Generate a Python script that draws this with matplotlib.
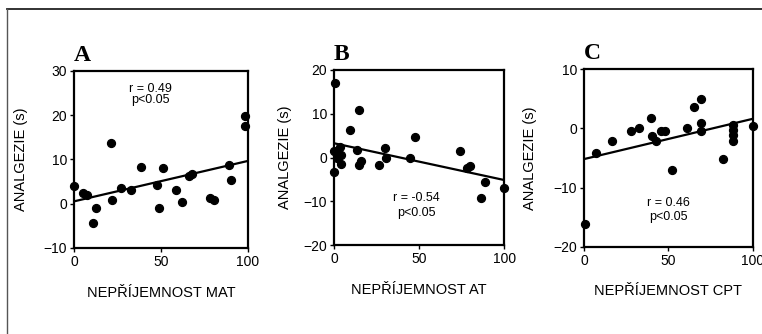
import numpy as np
import matplotlib.pyplot as plt
from matplotlib.lines import Line2D

plt.rcParams['font.family'] = ['Liberation Sans', 'DejaVu Sans']

# ---- data ----
# panel A : MAT
a_x = [0, 5.4, 7.6, 12.4, 11.1, 21.2, 21.6, 27.2, 32.5, 38.8, 47.8, 48.9, 50.9,
       58.9, 62.1, 66.0, 68.1, 78.0, 80.3, 89.1, 90.4, 98.5, 98.5]
a_y = [4.0, 2.5, 1.9, -0.9, -4.3, 13.7, 0.8, 3.6, 3.1, 8.3, 4.3, -0.9, 8.1,
       3.1, 0.3, 6.3, 6.8, 1.3, 0.8, 8.7, 5.3, 19.9, 17.6]

# panel B : AT
b_x = [0.6, 0, 0, 1.6, 3.5, 3.9, 2.0, 3.9, 14.7, 9.4, 13.3, 15.7, 14.9, 26.6,
       29.9, 30.3, 44.6, 47.6, 74.0, 77.9, 79.8, 88.6, 86.3, 100]
b_y = [17.1, -3.2, 1.5, 0.6, 2.5, 0.6, -0.2, -1.5, 10.9, 6.3, 1.7, -0.8, -1.7, -1.7,
       2.1, -0.2, 0.0, 4.6, 1.5, -2.3, -1.9, -5.5, -9.3, -7.0]

# panel C : CPT
c_x = [0.6, 7.1, 16.4, 27.9, 32.6, 39.7, 40.1, 42.7, 45.5, 48.0, 51.9, 60.9,
       65.4, 69.2, 69.2, 69.4, 82.2, 88.5, 88.5, 88.5, 88.5, 100]
c_y = [-16.2, -4.1, -2.1, -0.5, 0.0, 1.8, -1.3, -2.1, -0.4, -0.4, -7.1, 0.0,
       3.6, 5.0, 1.0, -0.4, -5.1, 0.6, -0.3, -1.1, -2.1, 0.5]

letters = ['A', 'B', 'C']
xlabels = ['NEPŘÍJEMNOST MAT', 'NEPŘÍJEMNOST AT', 'NEPŘÍJEMNOST CPT']
r_texts = ['r = 0.49', 'r = -0.54', 'r = 0.46']
ylims = [(-10, 30), (-20, 20), (-20, 10)]
yticks = [[-10, 0, 10, 20, 30], [-20, -10, 0, 10, 20], [-20, -10, 0, 10]]

# layout (figure fractions) and text spots (data coords)
boxes = [[0.0971, 0.2575, 0.2283, 0.530],
         [0.4383, 0.2656, 0.2235, 0.525],
         [0.7664, 0.2614, 0.2214, 0.531]]
txt_pos = [(44, 25.9, 23.4), (48.5, -9.1, -12.6), (50, -12.6, -15.0)]
ylabpad = [11, 8, 12]

fig = plt.figure(figsize=(7.62, 3.34), dpi=100)

data = [(a_x, a_y), (b_x, b_y), (c_x, c_y)]
for i, (xs, ys) in enumerate(data):
    ax = fig.add_axes(boxes[i])
    xs = np.array(xs)
    ys = np.array(ys)
    ax.scatter(xs, ys, s=32, color='black', zorder=3, clip_on=False)

    # regression line
    k, q = np.polyfit(xs, ys, 1)
    xx = np.array([0, 100])
    ax.plot(xx, k * xx + q, color='black', lw=1.6)

    ax.set_xlim(0, 100)
    ax.set_ylim(*ylims[i])
    ax.set_xticks([0, 50, 100])
    ax.set_yticks(yticks[i])
    ax.tick_params(direction='out', length=3, width=1, labelsize=10, pad=2)
    for sp in ax.spines.values():
        sp.set_linewidth(1.6)

    ax.set_xlabel(xlabels[i], fontsize=10.5, labelpad=12)
    ax.set_ylabel('ANALGEZIE (s)', fontsize=10.5, labelpad=ylabpad[i])

    tx, ty1, ty2 = txt_pos[i]
    ax.text(tx, ty1, r_texts[i], ha='center', va='center', fontsize=9)
    ax.text(tx, ty2, 'p<0.05', ha='center', va='center', fontsize=9)

    ax.text(0.0, 1.03, letters[i], transform=ax.transAxes, ha='left', va='bottom',
            fontsize=17, fontweight='bold', family='Liberation Serif')

# frame lines at top and left of the picture
fig.add_artist(Line2D([7 / 762, 1], [1 - 9 / 334, 1 - 9 / 334], color='#222222', lw=1.3))
fig.add_artist(Line2D([7 / 762, 7 / 762], [0, 1 - 9 / 334], color='#555555', lw=1.0))

fig.savefig('out.png', dpi=100)
